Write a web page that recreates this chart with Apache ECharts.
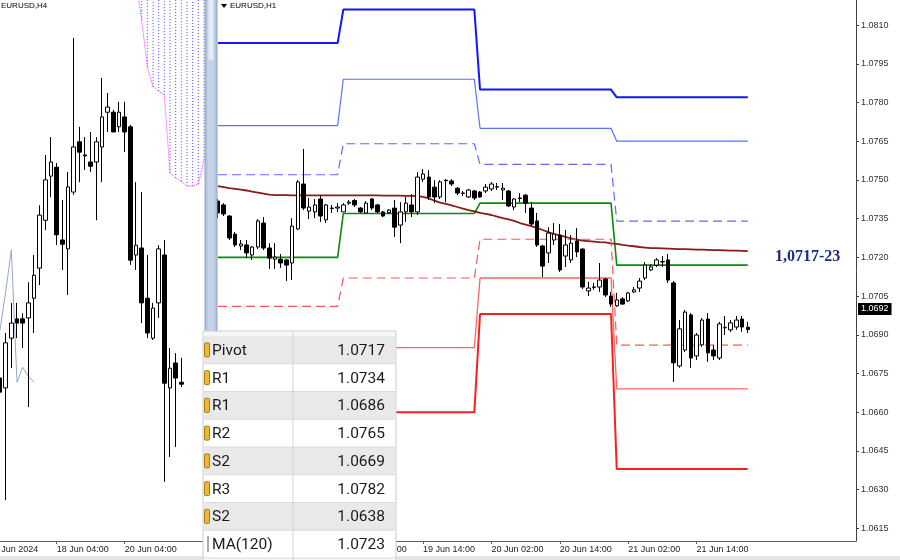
<!DOCTYPE html>
<html><head><meta charset="utf-8">
<script src="https://cdn.jsdelivr.net/npm/echarts@6/dist/echarts.min.js"></script>
<style>html,body{margin:0;padding:0;background:#fff;}#c{width:900px;height:560px;}</style>
</head><body><div id="c"></div>
<script>
// ===== H4 panel data =====
const h4Days = ['14 Jun','17 Jun','18 Jun','19 Jun','20 Jun','21 Jun'];
const h4TickLabels = ['14 Jun 2024','18 Jun 04:00','20 Jun 04:00'];
// [open, close, low, high], first bar = 14 Jun 12:00
const h4Candles = [
[1.06935,1.06905,1.06888,1.06952],[1.06914,1.07010,1.06675,1.07031],[1.07020,1.07052,1.06956,1.07095],
[1.07061,1.07052,1.07020,1.07095],[1.07061,1.07052,1.06999,1.07073],[1.07063,1.07095,1.06873,1.07139],
[1.07105,1.07154,1.07031,1.07197],[1.07169,1.07282,1.07133,1.07303],[1.07271,1.07357,1.07250,1.07410],
[1.07365,1.07395,1.07320,1.07448],[1.07384,1.07240,1.07218,1.07393],[1.07229,1.07220,1.07165,1.07314],
[1.07210,1.07342,1.07112,1.07374],[1.07331,1.07427,1.07325,1.07659],[1.07438,1.07416,1.07352,1.07470],
[1.07410,1.07408,1.07378,1.07448],[1.07395,1.07386,1.07374,1.07459],[1.07395,1.07438,1.07271,1.07448],
[1.07427,1.07491,1.07352,1.07574],[1.07501,1.07512,1.07459,1.07542],[1.07501,1.07459,1.07459,1.07506],
[1.07470,1.07501,1.07459,1.07523],[1.07491,1.07459,1.07416,1.07523],[1.07470,1.07186,1.07176,1.07474],
[1.07197,1.07218,1.07165,1.07352],[1.07212,1.07095,1.07052,1.07331],[1.07105,1.07031,1.07020,1.07197],
[1.07020,1.07084,1.07016,1.07095],[1.07095,1.07210,1.07063,1.07218],[1.07197,1.06924,1.06714,1.07229],
[1.06914,1.06956,1.06767,1.06999],[1.06967,1.06935,1.06788,1.06988],[1.06926,1.06922,1.06916,1.06978]
];
const h4GreyLine = [1.07037,1.07118,1.07208,1.06926,1.06958,1.06939,1.06926];
const cloudStart = 24; // bar index (from first candle) where the cloud edge starts
const cloudEdge = [1.07780,1.07697,1.07597,1.07555,1.07546,1.07538,1.07372,1.07361,1.07354,1.07344,1.07344,1.07348,1.07399];
const cloudTop = 1.0800;

// ===== H1 panel data =====
const h1TickLabels = ['18 Jun 02:00','18 Jun 14:00','19 Jun 02:00','19 Jun 14:00','20 Jun 02:00','20 Jun 14:00','21 Jun 02:00','21 Jun 14:00'];
const h1Candles = [
[1.07418,1.07372,1.07352,1.07426],[1.07403,1.07368,1.07360,1.07410],[1.07360,1.07275,1.07267,1.07364],
[1.07290,1.07248,1.07240,1.07298],[1.07244,1.07252,1.07228,1.07267],[1.07248,1.07217,1.07197,1.07267],
[1.07209,1.07240,1.07190,1.07244],[1.07240,1.07341,1.07232,1.07348],[1.07333,1.07236,1.07228,1.07356],
[1.07236,1.07197,1.07155,1.07255],[1.07193,1.07201,1.07155,1.07255],[1.07193,1.07178,1.07159,1.07213],
[1.07190,1.07170,1.07108,1.07193],[1.07178,1.07321,1.07112,1.07352],[1.07310,1.07492,1.07306,1.07499],
[1.07484,1.07391,1.07383,1.07620],[1.07379,1.07395,1.07348,1.07430],[1.07376,1.07403,1.07352,1.07426],
[1.07426,1.07360,1.07337,1.07441],[1.07345,1.07403,1.07333,1.07407],[1.07391,1.07389,1.07372,1.07403],
[1.07391,1.07395,1.07376,1.07410],[1.07376,1.07403,1.07376,1.07410],[1.07410,1.07414,1.07403,1.07422],
[1.07420,1.07403,1.07395,1.07426],[1.07391,1.07376,1.07372,1.07395],[1.07372,1.07410,1.07372,1.07418],
[1.07426,1.07391,1.07383,1.07430],[1.07403,1.07376,1.07372,1.07407],[1.07376,1.07360,1.07356,1.07379],
[1.07373,1.07383,1.07368,1.07387],[1.07391,1.07317,1.07279,1.07422],[1.07325,1.07376,1.07255,1.07414],
[1.07376,1.07410,1.07337,1.07434],[1.07403,1.07376,1.07356,1.07445],[1.07376,1.07511,1.07364,1.07530],
[1.07503,1.07523,1.07492,1.07542],[1.07511,1.07434,1.07422,1.07538],[1.07472,1.07434,1.07410,1.07499],
[1.07434,1.07492,1.07426,1.07499],[1.07499,1.07497,1.07414,1.07503],[1.07496,1.07484,1.07476,1.07503],
[1.07468,1.07449,1.07441,1.07472],[1.07449,1.07448,1.07437,1.07457],[1.07434,1.07461,1.07430,1.07465],
[1.07457,1.07430,1.07422,1.07461],[1.07453,1.07434,1.07430,1.07457],[1.07457,1.07472,1.07449,1.07484],
[1.07465,1.07484,1.07457,1.07492],[1.07472,1.07474,1.07461,1.07488],[1.07461,1.07468,1.07422,1.07488],
[1.07457,1.07399,1.07395,1.07461],[1.07395,1.07426,1.07383,1.07430],[1.07430,1.07428,1.07414,1.07449],
[1.07441,1.07410,1.07372,1.07445],[1.07391,1.07329,1.07321,1.07414],[1.07341,1.07248,1.07240,1.07372],
[1.07244,1.07166,1.07124,1.07248],[1.07217,1.07294,1.07178,1.07317],[1.07267,1.07290,1.07248,1.07333],
[1.07286,1.07151,1.07143,1.07329],[1.07205,1.07248,1.07163,1.07306],[1.07190,1.07255,1.07178,1.07286],
[1.07263,1.07221,1.07201,1.07313],[1.07232,1.07085,1.07077,1.07236],[1.07070,1.07081,1.07050,1.07105],
[1.07085,1.07084,1.07074,1.07101],[1.07085,1.07112,1.07066,1.07178],[1.07116,1.07054,1.07046,1.07120],
[1.07050,1.07019,1.07008,1.07066],[1.07012,1.07035,1.07008,1.07062],[1.07039,1.07019,1.07016,1.07046],
[1.07031,1.07062,1.07027,1.07066],[1.07066,1.07074,1.07062,1.07085],[1.07081,1.07108,1.07066,1.07120],
[1.07120,1.07170,1.07112,1.07182],[1.07151,1.07163,1.07147,1.07174],[1.07170,1.07190,1.07163,1.07197],
[1.07182,1.07184,1.07163,1.07205],[1.07190,1.07112,1.07101,1.07213],[1.07101,1.06791,1.06717,1.07108],
[1.06779,1.06923,1.06772,1.06957],[1.06841,1.06988,1.06833,1.06996],[1.06977,1.06810,1.06772,1.06984],
[1.06818,1.06899,1.06802,1.06907],[1.06861,1.06957,1.06853,1.06965],[1.06961,1.06830,1.06795,1.06984],
[1.06841,1.06818,1.06802,1.06861],[1.06810,1.06942,1.06802,1.06950],[1.06927,1.06929,1.06899,1.06973],
[1.06919,1.06946,1.06911,1.06957],[1.06930,1.06957,1.06919,1.06973],[1.06961,1.06930,1.06911,1.06973],
[1.06929,1.06920,1.06907,1.06950]
];
const ma120 = [
1.07476,1.07472,1.07468,1.07465,1.07462,1.07459,1.07455,1.07451,1.07447,1.07443,1.07441,
1.07441,1.07441,1.07440,1.07440,1.07440,1.07440,1.07440,1.07440,1.07440,1.07440,1.07440,1.07440,1.07440,1.07440,1.07440,1.07440,1.07440,1.07440,1.07439,1.07439,
1.07439,1.07439,1.07438,1.07438,
1.07437,1.07434,1.07428,1.07420,1.07412,1.07407,1.07401,1.07395,1.07389,1.07383,1.07378,1.07372,1.07368,1.07364,1.07358,
1.07352,1.07347,1.07341,1.07333,1.07327,1.07321,1.07314,1.07306,1.07298,1.07290,1.07285,1.07279,1.07273,1.07269,1.07265,
1.07263,1.07261,1.07259,1.07258,1.07254,1.07252,1.07248,1.07245,1.07243,1.07240,1.07238,1.07236,1.07236,1.07235,1.07234,
1.07233,1.07232,1.07232,1.07231,1.07230,1.07230,1.07229,1.07228,1.07228,1.07227,1.07226,1.07226,1.07225,1.07224
];
// daily pivot levels: 18, 19, 20, 21 Jun
const pivotDays = [18,19,20,21];
const levelR3 = [1.0803,1.0816,1.0785,1.0782];
const levelR2 = [1.0771,1.0789,1.0770,1.0765];
const levelR1 = [1.0752,1.0764,1.0756,1.0734];
const levelP  = [1.0720,1.0737,1.0741,1.0717];
const levelS1 = [1.0701,1.0712,1.0727,1.0686];
const levelS2 = [1.0669,1.0685,1.0712,1.0669];
const levelS3 = [1.0650,1.0660,1.0698,1.0638];
const priceTicks = [1.0615,1.0630,1.0645,1.0660,1.0675,1.0690,1.0705,1.0720,1.0735,1.0750,1.0765,1.0780,1.0795,1.0810];
const tableNames  = ['Pivot','R1','R1','R2','S2','R3','S2','MA(120)'];
const tableValues = ['1.0717','1.0734','1.0686','1.0765','1.0669','1.0782','1.0638','1.0723'];
const keyLevelText = '1,0717-23';

// ===== build categories =====
const pad = n => (n<10?'0':'')+n;
const h4Cats = [];
h4Days.forEach(d => { for (let h=0; h<24; h+=4) h4Cats.push(d+' '+pad(h)+':00'); });
const h4StartIdx = h4Cats.indexOf('14 Jun 04:00');
const h4CatsUsed = h4Cats.slice(h4StartIdx);
const H4_PRE = 2;
const nH4 = H4_PRE + cloudStart + cloudEdge.length;
while (h4CatsUsed.length < nH4) h4CatsUsed.push('22 Jun ' + h4CatsUsed.length);
const h4CatAxis = h4CatsUsed.slice(0, nH4);
const h4CandleData = h4CatAxis.map((c,i) => (i>=H4_PRE && i-H4_PRE < h4Candles.length) ? h4Candles[i-H4_PRE] : '-');
const h4GreyData = h4CatAxis.map((c,i) => (i>=H4_PRE && i-H4_PRE < h4GreyLine.length) ? h4GreyLine[i-H4_PRE] : '-');
const cloudEdgeData = h4CatAxis.map((c,i) => { const k=i-H4_PRE-cloudStart; return (k>=0 && k<cloudEdge.length) ? cloudEdge[k] : '-'; });
const cloudHatch = [];
cloudEdge.forEach((v,k) => { if (k>0) cloudHatch.push([H4_PRE+cloudStart+k, v, cloudTop]); });

const H1_SLOTS = 113;
const h1Cats = [];
for (let i=0;i<H1_SLOTS;i++){ const t=2+i; h1Cats.push((18+Math.floor(t/24))+' Jun '+pad(t%24)+':00'); }
const dayOf = i => pivotDays.indexOf(parseInt(h1Cats[i],10));
const lvl = arr => h1Candles.map((c,i) => arr[dayOf(i)]);
const lastPrice = h1Candles[h1Candles.length-1][1];

const font = 'Liberation Sans';
const lineS = (name, data, color, width, type) => ({
  name, type:'line', xAxisIndex:1, yAxisIndex:1, data, symbol:'none', silent:true,
  lineStyle:{color, width, type: type||'solid'}, z:3
});

const chart = echarts.init(document.getElementById('c'), null, {renderer:'canvas', width:900, height:560});
const option = {
  animation:false,
  backgroundColor:'#ffffff',
  grid:[
    {left:-11.33, top:0, width:215.33, height:541, containLabel:false, outerBoundsMode:'none'},
    {left:218, top:0, width:638, height:541, containLabel:false, outerBoundsMode:'none'}
  ],
  xAxis:[
    {type:'category', gridIndex:0, data:h4CatAxis, boundaryGap:false,
     axisLine:{lineStyle:{color:'#606060'}},
     axisTick:{length:3, interval:(i)=> i%12===0 && i<=H4_PRE+h4Candles.length, lineStyle:{color:'#606060'}},
     axisLabel:{interval:(i)=> i%12===0 && i<=H4_PRE+h4Candles.length, align:'left', margin:4, fontSize:9, fontFamily:font, color:'#222',
       hideOverlap:false, formatter:(v,i)=> h4TickLabels[i/12]}},
    {type:'category', gridIndex:1, data:h1Cats, boundaryGap:false,
     axisLine:{lineStyle:{color:'#606060'}},
     axisTick:{length:3, interval:(i)=> i%12===0 && i<h1Candles.length, lineStyle:{color:'#606060'}},
     axisLabel:{interval:(i)=> i%12===0 && i<h1Candles.length, align:'left', margin:4, fontSize:9, fontFamily:font, color:'#222',
       formatter:(v,i)=> h1TickLabels[i/12]}}
  ],
  yAxis:[
    {type:'value', gridIndex:0, min:1.06588, max:1.0774, show:false, splitLine:{show:false}},
    {type:'value', gridIndex:1, position:'right', min:1.06101, max:1.08197, scale:true,
     axisLine:{show:true, lineStyle:{color:'#404040'}},
     axisTick:{show:true, length:3, customValues:priceTicks, lineStyle:{color:'#404040'}},
     axisLabel:{customValues:priceTicks, formatter:v=>v.toFixed(4), fontSize:9, fontFamily:font, color:'#333', margin:5},
     splitLine:{show:false}}
  ],
  series:[
    {type:'custom', xAxisIndex:0, yAxisIndex:0, data:cloudHatch, silent:true, clip:true, z:1,
     renderItem:(p, api)=>{
       const a = api.coord([api.value(0), api.value(1)]);
       const b = api.coord([api.value(0), api.value(2)]);
       return {type:'line', shape:{x1:a[0],y1:a[1],x2:b[0],y2:b[1]}, style:{stroke:'#4848ff', lineWidth:1, lineDash:[1,2]}};
     }},
    {type:'line', xAxisIndex:0, yAxisIndex:0, data:cloudEdgeData, symbol:'none', silent:true, z:2,
     lineStyle:{color:'#ff33ff', width:1, type:'dotted'}},
    {type:'line', xAxisIndex:0, yAxisIndex:0, data:h4GreyData, symbol:'none', silent:true, z:2,
     lineStyle:{color:'#98a8c4', width:1}},
    {type:'candlestick', xAxisIndex:0, yAxisIndex:0, data:h4CandleData, barWidth:4, silent:true, z:4,
     itemStyle:{color:'#ffffff', color0:'#000000', borderColor:'#000000', borderColor0:'#000000', borderWidth:1}},
    lineS('R3', lvl(levelR3), '#1414ff', 2),
    lineS('R2', lvl(levelR2), '#5c70ff', 1.2),
    lineS('R1', lvl(levelR1), '#5a6cff', 1.2, [9,5]),
    lineS('Pivot', lvl(levelP), '#0a8a0a', 1.6),
    lineS('MA120', ma120, '#8b1a1a', 1.8),
    lineS('S1', lvl(levelS1), '#ff5555', 1.2, [9,5]),
    lineS('S2', lvl(levelS2), '#ff6464', 1.3),
    lineS('S3', lvl(levelS3), '#ff1e1e', 2),
    {type:'candlestick', xAxisIndex:1, yAxisIndex:1, data:h1Candles, barWidth:4, silent:true, z:5,
     itemStyle:{color:'#ffffff', color0:'#000000', borderColor:'#000000', borderColor0:'#000000', borderWidth:1},
     markLine:{silent:true, symbol:'none', animation:false, lineStyle:{color:'rgba(0,0,0,0)'},
       label:{show:true, position:'end', distance:2, formatter:()=>lastPrice.toFixed(4), backgroundColor:'#000', color:'#fff',
         fontSize:9, fontFamily:font, padding:[2,3,1,3]},
       data:[{yAxis:lastPrice}]}}
  ]
};
chart.setOption(option);

// ===== overlay graphics: separator, titles, table, key label =====
const G = [];
G.push({type:'rect', shape:{x:0,y:556,width:900,height:4}, style:{fill:'#e4e4e4'}, z:90});
G.push({type:'rect', shape:{x:205,y:0,width:12,height:560}, style:{fill:'#b3c4dc', stroke:'#8da2c2', lineWidth:1}, z:100});
G.push({type:'rect', shape:{x:207.5,y:0,width:7,height:560}, style:{fill:'#c6d4e8'}, z:101});
G.push({type:'rect', shape:{x:208.5,y:0,width:5,height:60}, style:{fill:'#e3ebf6'}, z:102});
G.push({type:'text', style:{text:'EURUSD,H4', x:1, y:6, font:'8px "'+font+'"', fill:'#000', verticalAlign:'middle'}, z:100});
G.push({type:'polygon', shape:{points:[[221,4],[227,4],[224,8]]}, style:{fill:'#000'}, z:100});
G.push({type:'text', style:{text:'EURUSD,H1', x:230, y:6, font:'8px "'+font+'"', fill:'#000', verticalAlign:'middle'}, z:100});
G.push({type:'text', style:{text:keyLevelText, x:775, y:257, font:'bold 16px "Liberation Serif"', fill:'#1c2c86', verticalAlign:'middle'}, z:100});
const TX=203, TY=331, TW=193, RH=27.75, R0=336;
G.push({type:'rect', shape:{x:TX,y:TY,width:TW,height:240}, style:{fill:'#f6f6f6', stroke:'#cfcfcf', lineWidth:1}, z:110});
tableNames.forEach((n,i)=>{
  const y = R0 + i*RH;
  G.push({type:'rect', shape:{x:TX+1,y:y,width:TW-2,height:RH}, style:{fill: i%2===0 ? '#e9e9e9' : '#ffffff'}, z:111});
  G.push({type:'line', shape:{x1:TX+1,y1:y+RH,x2:TX+TW-1,y2:y+RH}, style:{stroke:'#dadada', lineWidth:1}, z:112});
  if (i < tableNames.length-1) {
    G.push({type:'rect', shape:{x:204.5,y:y+RH/2-7,width:5,height:14,r:1}, style:{fill:'#eab833', stroke:'#a87c12', lineWidth:1}, z:113});
  } else {
    G.push({type:'line', shape:{x1:208,y1:y+RH/2-8,x2:208,y2:y+RH/2+8}, style:{stroke:'#555', lineWidth:1}, z:113});
  }
  G.push({type:'text', style:{text:n, x:212, y:y+RH/2+1, font:'15.5px Roboto', fill:'#1a1a1a', verticalAlign:'middle'}, z:114});
  G.push({type:'text', style:{text:tableValues[i], x:385, y:y+RH/2+1, font:'15.5px Roboto', fill:'#1a1a1a', align:'right', verticalAlign:'middle'}, z:114});
});
G.push({type:'line', shape:{x1:293,y1:TY+1,x2:293,y2:560}, style:{stroke:'#d4d4d4', lineWidth:1}, z:113});
chart.setOption({graphic:{elements:G}});
</script>
</body></html>
